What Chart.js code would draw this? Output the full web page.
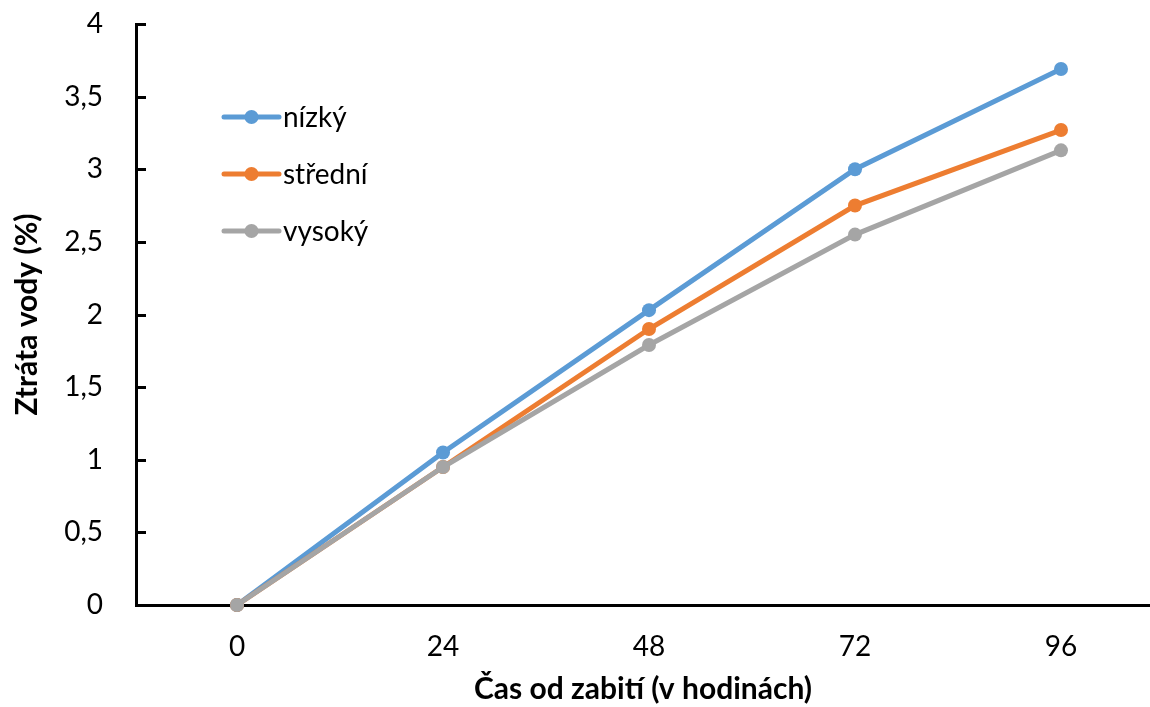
<!DOCTYPE html>
<html>
<head>
<meta charset="utf-8">
<script src="https://cdn.jsdelivr.net/npm/chart.js@4/dist/chart.umd.min.js"></script>
<style>
  html, body { margin: 0; padding: 0; background: #ffffff; overflow: hidden; }
  #wrap { width: 1150px; height: 707px; }
</style>
</head>
<body>
<div id="wrap"><canvas id="c" width="1150" height="707"></canvas></div>
<script>
// ---- data ----
const categories = [0, 24, 48, 72, 96];
const seriesNames = ['nízký', 'střední', 'vysoký'];
const nizky   = [0, 1.05, 2.03, 3.00, 3.69];
const stredni = [0, 0.95, 1.90, 2.75, 3.27];
const vysoky  = [0, 0.95, 1.79, 2.55, 3.13];
const yTickValues = [0, 0.5, 1, 1.5, 2, 2.5, 3, 3.5, 4];
const xTitle = 'Čas od zabití (v hodinách)';
const yTitle = 'Ztráta vody (%)';

const colors = ['#5B9BD5', '#ED7D31', '#A5A5A5'];
const FONT = 'Lato, "Open Sans", sans-serif';

function pts(vals) { return categories.map((c, i) => ({ x: c, y: vals[i] })); }

const seriesValues = [nizky, stredni, vysoky];
const datasets = seriesValues.map((vals, i) => ({
  label: seriesNames[i],
  data: pts(vals),
  borderColor: colors[i],
  backgroundColor: colors[i],
  pointBackgroundColor: colors[i],
  pointBorderColor: colors[i],
  pointBorderWidth: 0,
  pointRadius: 7,
  borderWidth: 5,
  tension: 0,
  clip: false,
  order: 3 - i
}));

// inward tick marks on the y axis
const innerTicks = {
  id: 'innerTicks',
  beforeDatasetsDraw(chart) {
    const { ctx, chartArea } = chart;
    const ys = chart.scales.y;
    ctx.save();
    ctx.strokeStyle = '#000';
    ctx.lineWidth = 3;
    ys.ticks.forEach(t => {
      const py = Math.round(ys.getPixelForValue(t.value)) + 0.5;
      ctx.beginPath();
      ctx.moveTo(chartArea.left, py);
      ctx.lineTo(chartArea.left + 10, py);
      ctx.stroke();
    });
    ctx.restore();
  }
};

// legend inside the plot (line + marker + label)
const insideLegend = {
  id: 'insideLegend',
  afterDatasetsDraw(chart) {
    const { ctx, chartArea } = chart;
    const x0 = chartArea.left + 88;
    const lineLen = 55;
    const y0 = chartArea.top + 93;
    const step = 57;
    ctx.save();
    chart.data.datasets.forEach((ds, i) => {
      const y = y0 + i * step;
      ctx.strokeStyle = ds.borderColor;
      ctx.lineWidth = 5;
      ctx.lineCap = 'round';
      ctx.beginPath();
      ctx.moveTo(x0, y);
      ctx.lineTo(x0 + lineLen, y);
      ctx.stroke();
      ctx.fillStyle = ds.borderColor;
      ctx.beginPath();
      ctx.arc(x0 + lineLen / 2, y, 7, 0, Math.PI * 2);
      ctx.fill();
      ctx.fillStyle = '#000';
      ctx.font = '28px ' + FONT;
      ctx.textBaseline = 'middle';
      ctx.textAlign = 'left';
      ctx.fillText(ds.label, x0 + lineLen + 4, y + 1);
    });
    ctx.restore();
  }
};

new Chart(document.getElementById('c'), {
  type: 'line',
  data: { datasets },
  plugins: [innerTicks, insideLegend],
  options: {
    responsive: false,
    animation: false,
    events: [],
    layout: { autoPadding: false, padding: { top: 24, right: 0, left: 0, bottom: 0 } },
    plugins: { legend: { display: false }, tooltip: { enabled: false } },
    scales: {
      x: {
        type: 'linear',
        min: -11.77,
        max: 106.37,
        afterBuildTicks(scale) { scale.ticks = categories.map(v => ({ value: v })); },
        afterFit(scale) { scale.height = 102; scale.paddingLeft = 0; scale.paddingRight = 0; },
        grid: { display: true, drawOnChartArea: false, drawTicks: false },
        border: { display: true, color: '#000', width: 3 },
        ticks: {
          color: '#000',
          font: { family: FONT, size: 28 },
          padding: 25,
          maxRotation: 0,
          autoSkip: false,
          callback: (v) => String(v)
        },
        title: {
          display: true,
          text: xTitle,
          color: '#000',
          font: { family: FONT, size: 30, weight: 'bold' },
          padding: { top: 0, bottom: 0 }
        }
      },
      y: {
        type: 'linear',
        min: 0,
        max: 4,
        afterBuildTicks(scale) { scale.ticks = yTickValues.map(v => ({ value: v })); },
        afterFit(scale) { scale.width = 136; scale.paddingTop = 0; scale.paddingBottom = 0; },
        grid: { display: true, drawOnChartArea: false, drawTicks: false },
        border: { display: true, color: '#000', width: 3 },
        ticks: {
          color: '#000',
          font: { family: FONT, size: 28 },
          padding: 33,
          callback: (v) => String(v).replace('.', ',')
        },
        title: {
          display: true,
          text: yTitle,
          color: '#000',
          font: { family: FONT, size: 30, weight: 'bold' },
          padding: { top: 9, bottom: 0 }
        }
      }
    }
  }
});
</script>
</body>
</html>
